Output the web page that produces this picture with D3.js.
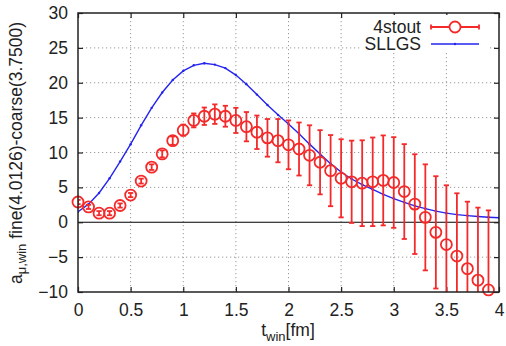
<!DOCTYPE html>
<html>
<head>
<meta charset="utf-8">
<script src="https://cdn.jsdelivr.net/npm/d3@7"></script>
<style>
  body { margin: 0; background: #fff; }
  text { font-family: "Liberation Sans", Arial, sans-serif; fill: #222; }
</style>
</head>
<body>
<svg id="chart" width="506" height="346"></svg>
<script>
// 4stout points: t_win [fm], value, error
var stoutT = [0, 0.1, 0.2, 0.3, 0.4, 0.5, 0.6, 0.7, 0.8, 0.9,
              1.0, 1.1, 1.2, 1.3, 1.4, 1.5, 1.6, 1.7, 1.8, 1.9,
              2.0, 2.1, 2.2, 2.3, 2.4, 2.5, 2.6, 2.7, 2.8, 2.9,
              3.0, 3.1, 3.2, 3.3, 3.4, 3.5, 3.6, 3.7, 3.8, 3.9];
var stoutVal = [2.9, 2.2, 1.3, 1.3, 2.4, 3.9, 5.9, 7.9, 9.8, 11.7,
                13.2, 14.6, 15.2, 15.5, 15.2, 14.6, 13.7, 12.9, 12.1, 11.7,
                11.1, 10.5, 9.6, 8.6, 7.4, 6.3, 5.8, 5.6, 5.8, 6.0,
                5.7, 4.4, 2.6, 0.7, -1.45, -3.2, -4.85, -6.65, -8.3, -9.7];
var stoutErr = [0.3, 0.3, 0.3, 0.3, 0.3, 0.3, 0.35, 0.4, 0.5, 0.6,
                0.8, 1.0, 1.25, 1.4, 1.5, 1.8, 2.1, 2.4, 2.7, 3.1,
                3.5, 3.8, 4.3, 4.6, 5.1, 5.6, 5.9, 6.15, 6.35, 6.45,
                6.5, 6.8, 7.15, 7.6, 8.05, 8.5, 9.0, 9.6, 10.4, 11.4];
// SLLGS curve
var sllgsT = [0, 0.1, 0.2, 0.3, 0.4, 0.5, 0.6, 0.7, 0.8, 0.9,
              1.0, 1.1, 1.2, 1.3, 1.4, 1.5, 1.6, 1.7, 1.8, 1.9,
              2.0, 2.1, 2.2, 2.3, 2.4, 2.5, 2.6, 2.7, 2.8, 2.9,
              3.0, 3.1, 3.2, 3.3, 3.4, 3.5, 3.6, 3.7, 3.8, 3.9, 4.0];
var sllgsVal = [1.5, 2.6, 4.2, 6.3, 8.7, 11.2, 13.9, 16.4, 18.6, 20.4,
                21.7, 22.5, 22.8, 22.6, 22.1, 21.1, 19.8, 18.3, 16.8, 15.4,
                14.1, 12.7, 11.2, 9.8, 8.4, 7.2, 6.2, 5.4, 4.7, 4.0,
                3.4, 2.85, 2.35, 1.95, 1.6, 1.3, 1.1, 0.95, 0.82, 0.72, 0.65];
var xTicks = [0, 0.5, 1, 1.5, 2, 2.5, 3, 3.5, 4];
var yTicks = [-10, -5, 0, 5, 10, 15, 20, 25, 30];

var red = "#f42a2a", blue = "#2424f0";
var fs = 17.5;
var width = 506, height = 346;
var margin = {left: 78, top: 13, right: 7, bottom: 54};
var svg = d3.select("#chart");

var x = d3.scaleLinear().domain([0, 4]).range([margin.left, width - margin.right]);
var y = d3.scaleLinear().domain([-10, 30]).range([height - margin.bottom, margin.top]);

svg.append("clipPath").attr("id", "plotclip").append("rect")
    .attr("x", x(0)).attr("y", y(30)).attr("width", x(4) - x(0)).attr("height", y(-10) - y(30));

//grid
var grid = svg.append("g").attr("stroke", "#999").attr("stroke-width", 1).attr("stroke-dasharray", "1.2,2.8");
grid.selectAll("line.gx").data(xTicks.slice(1, -1)).enter().append("line")
    .attr("x1", function (d) { return x(d); }).attr("x2", function (d) { return x(d); })
    .attr("y1", y(30)).attr("y2", y(-10));
grid.selectAll("line.gy").data(yTicks.filter(function (d) { return d !== 0 && d !== 30 && d !== -10; })).enter().append("line")
    .attr("y1", function (d) { return y(d); }).attr("y2", function (d) { return y(d); })
    .attr("x1", x(0)).attr("x2", x(4));

//zero line
svg.append("line").attr("x1", x(0)).attr("x2", x(4)).attr("y1", y(0)).attr("y2", y(0))
    .attr("stroke", "#000").attr("stroke-width", 1.2);

//axes with ticks mirrored on all sides
var axB = svg.append("g").attr("transform", "translate(0," + y(-10) + ")")
    .call(d3.axisBottom(x).tickValues(xTicks).tickSize(-5).tickPadding(12).tickFormat(d3.format("")));
var axT = svg.append("g").attr("transform", "translate(0," + y(30) + ")")
    .call(d3.axisTop(x).tickValues(xTicks).tickSize(-5).tickFormat(""));
var axL = svg.append("g").attr("transform", "translate(" + x(0) + ",0)")
    .call(d3.axisLeft(y).tickValues(yTicks).tickSize(-5).tickPadding(10).tickFormat(d3.format("")));
var axR = svg.append("g").attr("transform", "translate(" + x(4) + ",0)")
    .call(d3.axisRight(y).tickValues(yTicks).tickSize(-5).tickFormat(""));
[axB, axT, axL, axR].forEach(function (a) {
    a.select(".domain").remove();
    a.selectAll(".tick line").attr("stroke", "#222").attr("stroke-width", 1.2);
    a.selectAll(".tick text").attr("font-size", fs).attr("fill", "#222")
        .style("font-family", "'Liberation Sans', Arial, sans-serif");
});
axB.selectAll(".tick text").attr("dy", "0.71em");

//legend background (opaque)
svg.append("rect").attr("x", 360).attr("y", 15).attr("width", 128).attr("height", 36).attr("fill", "#fff");

//SLLGS curve
var line = d3.line().x(function (d, i) { return x(sllgsT[i]); }).y(function (d) { return y(d); });
var plot = svg.append("g").attr("clip-path", "url(#plotclip)");
plot.append("path").datum(sllgsVal).attr("d", line)
    .attr("fill", "none").attr("stroke", blue).attr("stroke-width", 1.4);
plot.selectAll("circle.sd").data(sllgsVal).enter().append("circle")
    .attr("cx", function (d, i) { return x(sllgsT[i]); }).attr("cy", function (d) { return y(d); })
    .attr("r", 1.2).attr("fill", blue);

//4stout error bars
var cap = 2.6;
var eb = plot.append("g").attr("stroke", red).attr("stroke-width", 1.8);
stoutVal.forEach(function (v, i) {
    var cx = x(stoutT[i]), lo = y(v - stoutErr[i]), hi = y(v + stoutErr[i]);
    eb.append("line").attr("x1", cx).attr("x2", cx).attr("y1", lo).attr("y2", hi);
    eb.append("line").attr("x1", cx - cap).attr("x2", cx + cap).attr("y1", lo).attr("y2", lo);
    eb.append("line").attr("x1", cx - cap).attr("x2", cx + cap).attr("y1", hi).attr("y2", hi);
});
svg.append("g").selectAll("circle").data(stoutVal).enter().append("circle")
    .attr("cx", function (d, i) { return x(stoutT[i]); }).attr("cy", function (d) { return y(d); })
    .attr("r", 5.5).attr("fill", "none").attr("stroke", red).attr("stroke-width", 1.8);

//frame
svg.append("rect").attr("x", x(0)).attr("y", y(30)).attr("width", x(4) - x(0)).attr("height", y(-10) - y(30))
    .attr("fill", "none").attr("stroke", "#222").attr("stroke-width", 1.5);

//legend
var lg = svg.append("g");
lg.append("text").attr("x", 421).attr("y", 33).attr("text-anchor", "end").attr("font-size", fs).text("4stout");
lg.append("text").attr("x", 421).attr("y", 49.5).attr("text-anchor", "end").attr("font-size", fs).text("SLLGS");
lg.append("line").attr("x1", 431).attr("x2", 479).attr("y1", 27).attr("y2", 27).attr("stroke", red).attr("stroke-width", 1.8);
[431, 479].forEach(function (lx) {
    lg.append("line").attr("x1", lx).attr("x2", lx).attr("y1", 24.4).attr("y2", 29.6).attr("stroke", red).attr("stroke-width", 1.8);
});
lg.append("circle").attr("cx", 455).attr("cy", 27).attr("r", 5.5).attr("fill", "#fff").attr("stroke", red).attr("stroke-width", 1.8);
lg.append("line").attr("x1", 431).attr("x2", 479).attr("y1", 44).attr("y2", 44).attr("stroke", blue).attr("stroke-width", 1.4);
lg.append("circle").attr("cx", 455).attr("cy", 44).attr("r", 1.2).attr("fill", blue);

//axis labels
var xl = svg.append("text").attr("x", 288).attr("y", 336).attr("text-anchor", "middle").attr("font-size", fs);
xl.append("tspan").text("t");
xl.append("tspan").attr("font-size", 13).attr("dy", 4.5).text("win");
xl.append("tspan").attr("dy", -4.5).text("[fm]");

var yl = svg.append("text").attr("transform", "translate(21.5,153) rotate(-90)").attr("text-anchor", "middle").attr("font-size", fs);
yl.append("tspan").text("a");
yl.append("tspan").attr("font-size", 13).attr("dy", 4.5).text("\u03bc,win");
yl.append("tspan").attr("dy", -4.5).text(" fine(4.0126)-coarse(3.7500)");
</script>
</body>
</html>
